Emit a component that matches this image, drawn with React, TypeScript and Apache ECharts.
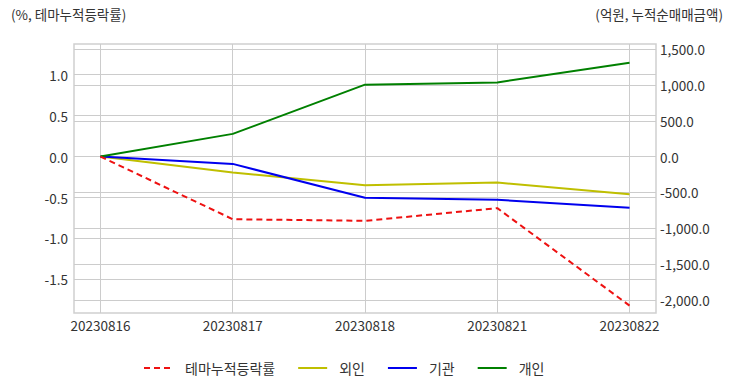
import React, { useEffect, useRef } from "react";
import * as echarts from "echarts";

const dates = ["20230816", "20230817", "20230818", "20230821", "20230822"];
const themeReturn = [0, -0.765, -0.785, -0.63, -1.82];
const foreign = [0, -223, -399, -363, -525];
const institution = [0, -102, -576, -604, -716];
const individual = [0, 317, 1004, 1035, 1311];
const leftTicks = [-1.5, -1.0, -0.5, 0, 0.5, 1.0];
const rightTicks = [-2000, -1500, -1000, -500, 0, 500, 1000, 1500];
const seriesNames = ["테마누적등락률", "외인", "기관", "개인"];

const FONT = "'Noto Sans CJK KR', 'Noto Sans', sans-serif";
const TXT = "#333333";
const GRID = "#cccccc";

export default function App() {
  const ref = useRef<HTMLDivElement>(null);
  useEffect(() => {
    document.body.style.margin = "0";
    const chart = echarts.init(ref.current!, undefined, { renderer: "svg" });
    const pts = (arr: number[]) => arr.map((v, i) => [i, v]);
    chart.setOption({
      animation: false,
      backgroundColor: "#ffffff",
      textStyle: { fontFamily: FONT },
      grid: {
        left: 74,
        right: 76,
        top: 44,
        bottom: 79,
        show: true,
        borderColor: "#d0d0d0",
        borderWidth: 1.5,
      },
      graphic: [
        { type: "text", left: 11, top: 7, style: { text: "(%, 테마누적등락률)", fill: TXT, font: `13.5px ${FONT}` } },
        { type: "text", right: 9, top: 7, style: { text: "(억원, 누적순매매금액)", fill: TXT, font: `13.5px ${FONT}` } },
      ],
      legend: {
        bottom: 12,
        left: 138,
        itemWidth: 29,
        itemHeight: 10,
        itemGap: 22,
        itemStyle: { opacity: 0 },
        textStyle: { color: TXT, fontSize: 14, fontFamily: FONT, padding: [0, 0, 0, 7] },
        data: seriesNames,
      },
      xAxis: {
        type: "value",
        min: -0.2,
        max: 4.2,
        axisLine: { show: false },
        axisTick: { show: false, customValues: [0, 1, 2, 3, 4] },
        splitLine: { show: true, lineStyle: { color: GRID, width: 1 } },
        axisLabel: {
          customValues: [0, 1, 2, 3, 4],
          formatter: (v: number) => dates[Math.round(v)] ?? "",
          color: TXT,
          fontSize: 13.5,
          margin: 5,
        },
      },
      yAxis: [
        {
          type: "value",
          min: -1.91,
          max: 1.374,
          position: "left",
          axisLine: { show: false },
          axisTick: { show: false, customValues: leftTicks },
          splitLine: { show: true, lineStyle: { color: GRID, width: 1 } },
          axisLabel: {
            customValues: leftTicks,
            formatter: (v: number) => v.toFixed(1),
            color: TXT,
            fontSize: 13.5,
            margin: 6,
          },
        },
        {
          type: "value",
          min: -2184,
          max: 1572,
          position: "right",
          axisLine: { show: false },
          axisTick: { show: false, customValues: rightTicks },
          splitLine: { show: true, lineStyle: { color: GRID, width: 1 } },
          axisLabel: {
            customValues: rightTicks,
            formatter: (v: number) =>
              v.toLocaleString("en-US", { minimumFractionDigits: 1, maximumFractionDigits: 1 }),
            color: TXT,
            fontSize: 13.5,
            margin: 4,
          },
        },
      ],
      series: [
        {
          name: seriesNames[0],
          type: "line",
          yAxisIndex: 0,
          data: pts(themeReturn),
          symbol: "none",
          lineStyle: { color: "#ee1111", width: 2, type: [6, 4] },
          itemStyle: { color: "#ee1111" },
          z: 5,
        },
        {
          name: seriesNames[1],
          type: "line",
          yAxisIndex: 1,
          data: pts(foreign),
          symbol: "none",
          lineStyle: { color: "#bfbf00", width: 2 },
          itemStyle: { color: "#bfbf00" },
        },
        {
          name: seriesNames[2],
          type: "line",
          yAxisIndex: 1,
          data: pts(institution),
          symbol: "none",
          lineStyle: { color: "#0000ee", width: 2 },
          itemStyle: { color: "#0000ee" },
        },
        {
          name: seriesNames[3],
          type: "line",
          yAxisIndex: 1,
          data: pts(individual),
          symbol: "none",
          lineStyle: { color: "#008000", width: 2 },
          itemStyle: { color: "#008000" },
        },
      ],
    });
    return () => chart.dispose();
  }, []);
  return <div ref={ref} style={{ width: 732, height: 392 }} />;
}
